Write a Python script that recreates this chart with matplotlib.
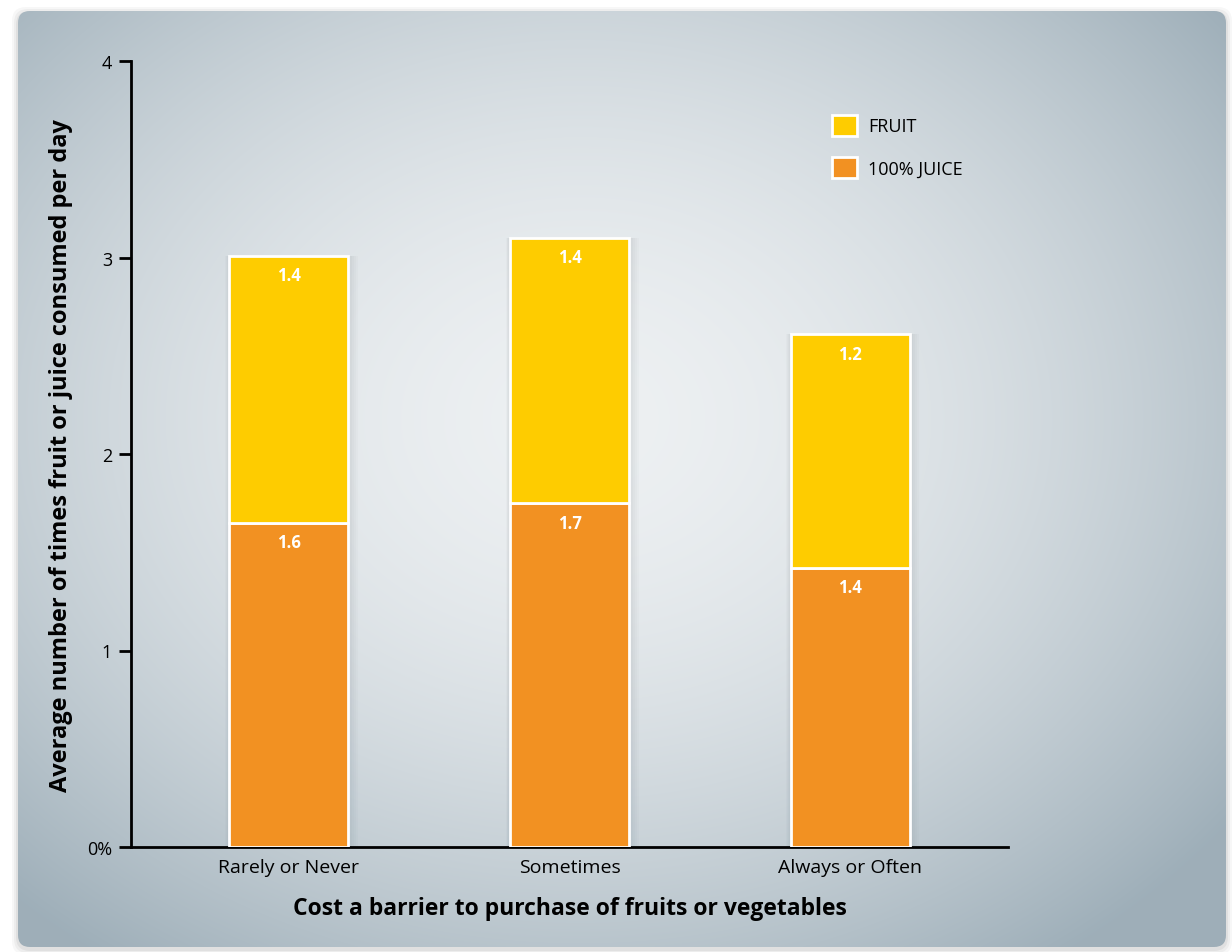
import numpy as np
import matplotlib
matplotlib.use("Agg")
import matplotlib.pyplot as plt
from matplotlib.patches import FancyBboxPatch

categories = ["Rarely or Never", "Sometimes", "Always or Often"]
juice = [1.65, 1.75, 1.42]
fruit = [1.36, 1.35, 1.19]
juice_labels = ["1.6", "1.7", "1.4"]
fruit_labels = ["1.4", "1.4", "1.2"]
y_ticks = [0, 1, 2, 3, 4]
y_ticklabels = ["0%", "1", "2", "3", "4"]

FRUIT_COLOR = "#fecc00"
JUICE_COLOR = "#f29122"

plt.rcParams["font.family"] = ["Open Sans", "DejaVu Sans"]

W, H = 1232, 953
fig = plt.figure(figsize=(W / 100, H / 100), dpi=100)
fig.patch.set_facecolor("white")

# background panel with radial gradient
bg = fig.add_axes([0, 0, 1, 1], zorder=-1)
bg.set_xlim(0, W)
bg.set_ylim(H, 0)
bg.axis("off")

for i, a in enumerate([0.03, 0.04, 0.05]):
    pad = 6 - i * 2
    sh = FancyBboxPatch((18 - pad, 12 - pad + 2), 1208 + 2 * pad, 936 + 2 * pad,
                        boxstyle="round,pad=0,rounding_size=14",
                        facecolor="#000000", edgecolor="none", alpha=a, zorder=0)
    bg.add_patch(sh)

yy, xx = np.mgrid[0:H, 0:W]
r = np.sqrt(((xx - 580) / 820.0) ** 2 + ((yy - 420) / 660.0) ** 2)
t = np.clip(r, 0, 1) ** 1.8
c_in = np.array([0.93, 0.942, 0.95])
c_out = np.array([0.62, 0.685, 0.725])
img = c_in[None, None, :] * (1 - t[..., None]) + c_out[None, None, :] * t[..., None]
panel = FancyBboxPatch((18, 12), 1208, 936, boxstyle="round,pad=0,rounding_size=12",
                       facecolor="none", edgecolor="none")
bg.add_patch(panel)
im = bg.imshow(img, extent=(0, W, H, 0), aspect="auto", interpolation="bilinear", zorder=1)
im.set_clip_path(panel)

# main axes
ax = fig.add_axes([131 / W, (H - 848) / H, (1008 - 131) / W, (848 - 62) / H])
ax.set_facecolor("none")
x = np.arange(len(categories))
width = 0.424
totals = np.array(juice) + np.array(fruit)

# soft shadow behind bars
for k in range(1, 6):
    ax.bar(x + 0.002 * k, totals, width + 0.01 * k, color="#40505a", alpha=0.025,
           linewidth=0, zorder=2)

jb = ax.bar(x, juice, width, color=JUICE_COLOR, edgecolor="white", linewidth=2, zorder=3)
fb = ax.bar(x, fruit, width, bottom=juice, color=FRUIT_COLOR, edgecolor="white",
            linewidth=2, zorder=3)

for i in range(len(categories)):
    ax.annotate(juice_labels[i], (x[i], juice[i]), xytext=(0, -14), textcoords="offset points",
                ha="center", va="center", color="white", fontsize=12, fontweight="bold", zorder=4)
    ax.annotate(fruit_labels[i], (x[i], totals[i]), xytext=(0, -14),
                textcoords="offset points", ha="center", va="center", color="white",
                fontsize=12, fontweight="bold", zorder=4)

ax.set_xlim(-0.563, 2.563)
ax.set_ylim(0, 4)
ax.set_yticks(y_ticks)
ax.set_yticklabels(y_ticklabels, fontsize=13)
ax.set_xticks(x)
ax.set_xticklabels(categories, fontsize=14)
ax.tick_params(axis="x", length=0, pad=8)
ax.tick_params(axis="y", length=8.6, width=2, pad=5)
for s in ["top", "right"]:
    ax.spines[s].set_visible(False)
for s in ["left", "bottom"]:
    ax.spines[s].set_linewidth(2)
    ax.spines[s].set_color("black")

ax.set_ylabel("Average number of times fruit or juice consumed per day", fontsize=17,
              fontweight="bold")
ax.yaxis.set_label_coords(-0.066, 0.5)
ax.set_xlabel("Cost a barrier to purchase of fruits or vegetables", fontsize=16.5,
              fontweight="bold")
ax.xaxis.set_label_coords(0.5, -0.062)

leg = ax.legend([fb, jb], ["FRUIT", "100% JUICE"], frameon=False, loc="upper left",
                bbox_to_anchor=(832 / W, 1 - 116 / H), bbox_transform=fig.transFigure,
                fontsize=13, handlelength=1.38, handleheight=1.38, labelspacing=1.2,
                handletextpad=0.6, borderpad=0, borderaxespad=0)

fig.savefig("out.png", dpi=100)
